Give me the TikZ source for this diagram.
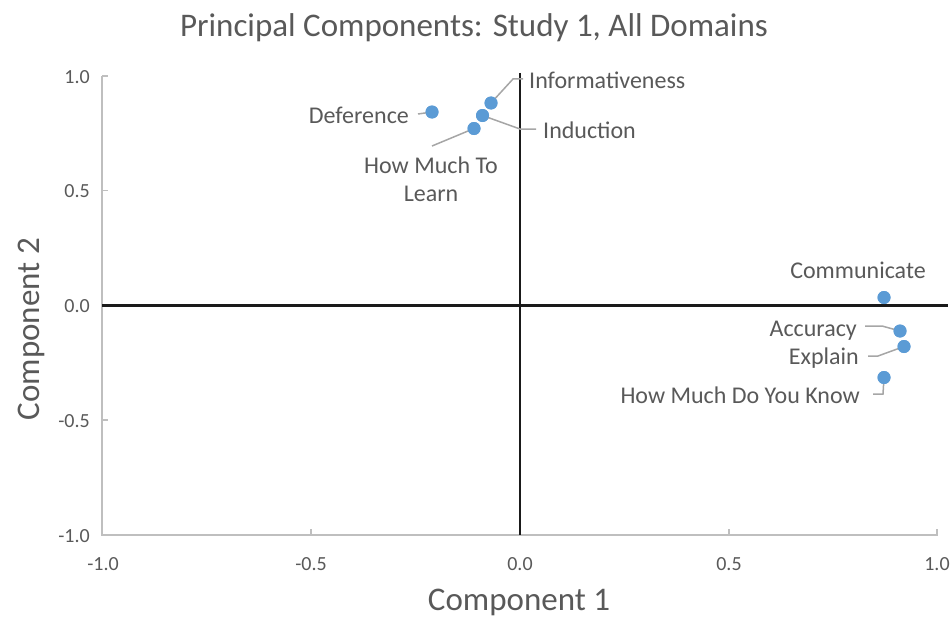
\documentclass[tikz,border=0pt]{standalone}
\usepackage{fontspec}
\setmainfont{Carlito}
\definecolor{txt}{HTML}{595959}
\definecolor{dot}{HTML}{5B9BD5}
\definecolor{lead}{HTML}{A6A6A6}
\definecolor{axisg}{HTML}{BFBFBF}
\definecolor{zero}{HTML}{1A1A1A}
\begin{document}
\begin{tikzpicture}[x=1pt,y=-1pt,
  pt/.style={circle,fill=dot,inner sep=0pt,minimum size=13pt},
  lbl/.style={text=txt,font=\fontsize{24}{28}\selectfont,inner sep=0pt,yshift=-6pt},
  tick/.style={text=txt,font=\fontsize{20}{24}\selectfont,inner sep=0pt,yshift=-5pt},
  ttl/.style={text=txt,font=\fontsize{33}{38}\selectfont,inner sep=0pt},
  leader/.style={draw=lead,line width=1.5pt},
  axisline/.style={draw=axisg,line width=1.3pt},
  zeroline/.style={draw=zero,line width=2.2pt}]
\useasboundingbox (0,0) rectangle (951,618);
% title
\node[ttl,anchor=mid,yshift=-6pt] (title) at (474,28) {Principal Components: Study 1, All Domains};
% axes frame
\coordinate (tl) at (102,76);
\coordinate (bl) at (102,535);
\coordinate (br) at (937,535);
\draw[axisline] (tl) -- (bl) -- (br) -- ++(0,-6);
\foreach \y in {76,190.5,420} \draw[axisline] (102,\y) -- ++(6,0);
\foreach \x in {311,729} \draw[axisline] (\x,535) -- ++(0,-6);
% zero lines
\coordinate (zl) at (102,305.5);
\coordinate (zr) at (948,305.5);
\coordinate (zt) at (520,73);
\coordinate (zb) at (520,535);
\draw[zeroline] (zl) -- (zr);
\draw[zeroline] (zt) -- (zb);
% tick labels
\node[tick,anchor=mid east] (y1) at (90,76) {1.0};
\node[tick,anchor=mid east] (y2) at (90,190.5) {0.5};
\node[tick,anchor=mid east] (y3) at (90,305.5) {0.0};
\node[tick,anchor=mid east] (y4) at (90,420) {-0.5};
\node[tick,anchor=mid east] (y5) at (90,535) {-1.0};
\node[tick,anchor=mid] (x1) at (103,563) {-1.0};
\node[tick,anchor=mid] (x2) at (311,563) {-0.5};
\node[tick,anchor=mid] (x3) at (520,563) {0.0};
\node[tick,anchor=mid] (x4) at (729,563) {0.5};
\node[tick,anchor=mid] (x5) at (937,563) {1.0};
% axis titles
\node[ttl,anchor=mid,yshift=-7pt] (xt) at (519,601) {Component 1};
\node[ttl,anchor=center,rotate=90] (yt) at (31,329) {Component 2};
% data points
\node[pt] (def) at (432,112) {};
\node[pt] (inf) at (491,103) {};
\node[pt] (ind) at (482.5,115.5) {};
\node[pt] (hml) at (474,128.5) {};
\node[pt] (com) at (884,297.5) {};
\node[pt] (acc) at (900,331) {};
\node[pt] (exp) at (904,346.5) {};
\node[pt] (hmk) at (884,377.5) {};
% labels
\node[lbl,anchor=mid east] (ldef) at (409,115) {Deference};
\node[lbl,anchor=mid west] (linf) at (529,80) {Informativeness};
\node[lbl,anchor=mid west] (lind) at (543,130) {Induction};
\node[lbl,align=center,anchor=mid] (lhml) at (431,193) {How Much To\\Learn};
\node[lbl,anchor=mid] (lcom) at (858,270) {Communicate};
\node[lbl,anchor=mid east] (lacc) at (857,328) {Accuracy};
\node[lbl,anchor=mid east] (lexp) at (859,356) {Explain};
\node[lbl,anchor=mid east] (lhmk) at (860,395) {How Much Do You Know};
% leader lines
\coordinate (cinf1) at (513,79);
\coordinate (cinf2) at (523,79);
\coordinate (cind1) at (520,129);
\coordinate (cind2) at (536,129);
\coordinate (cdef) at (418,114);
\coordinate (chml) at (432,146);
\coordinate (cacc1) at (865,326);
\coordinate (cacc2) at (882,326);
\coordinate (cexp1) at (868,356);
\coordinate (cexp2) at (878,356);
\coordinate (chmk1) at (873,394);
\coordinate (chmk2) at (883,394);
\draw[leader] (inf.center) -- (cinf1) -- (cinf2);
\draw[leader] (ind.center) -- (cind1) -- (cind2);
\draw[leader] (cdef) -- (def.center);
\draw[leader] (hml.center) -- (chml);
\draw[leader] (cacc1) -- (cacc2) -- (acc.center);
\draw[leader] (cexp1) -- (cexp2) -- (exp.center);
\draw[leader] (chmk1) -- (chmk2) -- (hmk.center);
% redraw points over leaders
\foreach \n in {def,inf,ind,hml,com,acc,exp,hmk} \fill[dot] (\n) circle (6.5pt);
\end{tikzpicture}
\end{document}
